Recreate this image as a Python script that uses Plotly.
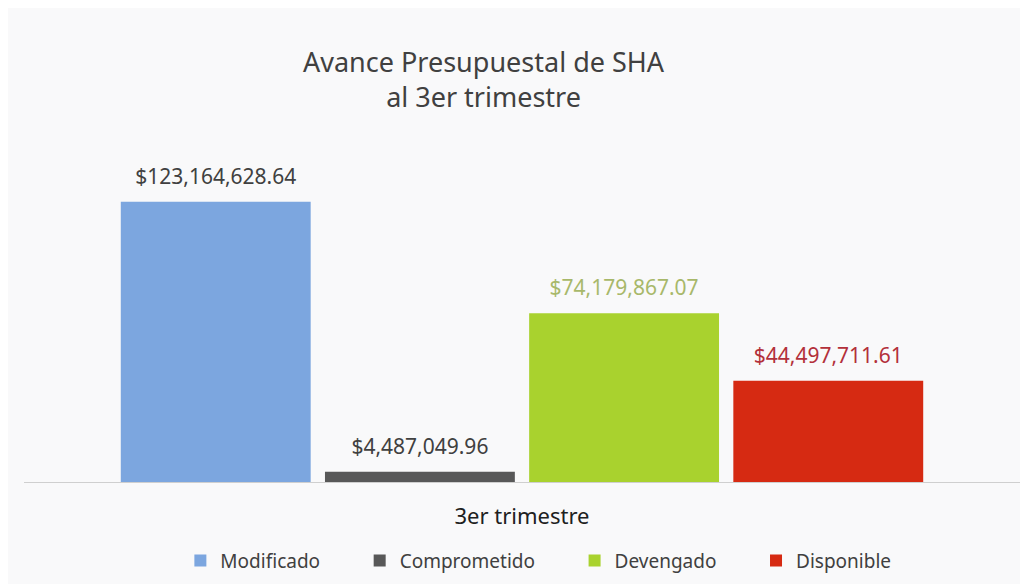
import plotly.graph_objects as go

periodo = ["3er trimestre"]
series = ["Modificado", "Comprometido", "Devengado", "Disponible"]
montos = [123164628.64, 4487049.96, 74179867.07, 44497711.61]
etiquetas = ["$123,164,628.64", "$4,487,049.96", "$74,179,867.07", "$44,497,711.61"]

colores = ["#7ca6df", "#585858", "#a9d22e", "#d62a12"]
colores_texto = ["#404040", "#404040", "#a8b86a", "#b3303a"]

relleno = "\u00a0" * 7  # extra room after each legend entry

fig = go.Figure()
for nombre, valor, color in zip(series, montos, colores):
    fig.add_trace(go.Bar(
        name=nombre + relleno, x=periodo, y=[valor], offsetgroup=nombre,
        marker=dict(color=color, line=dict(width=0)),
    ))

# value labels, placed over each bar with the same grouping
for nombre, valor, etiqueta, ctexto in zip(series, montos, etiquetas, colores_texto):
    fig.add_trace(go.Scatter(
        x=periodo, y=[valor], text=[etiqueta], offsetgroup=nombre,
        mode="markers+text", textposition="top center",
        marker=dict(size=19, opacity=0), showlegend=False, cliponaxis=False,
        textfont=dict(color=ctexto, size=21), hoverinfo="skip",
    ))

fig.update_layout(
    width=1028, height=584,
    margin=dict(l=16, r=16, t=160, b=101),
    paper_bgcolor="#f9f9fa", plot_bgcolor="#f9f9fa",
    font=dict(family="Noto Sans, Open Sans, sans-serif", color="#404040"),
    barmode="group", bargap=0.18, bargroupgap=0.07,
    scattermode="group", scattergap=0.18,
    title=dict(text="Avance Presupuestal de SHA<br>al 3er trimestre",
               x=0.4626, xanchor="center", y=0.890, yanchor="top",
               font=dict(size=27, color="#404040")),
    xaxis=dict(showgrid=False, showline=True, linecolor="#cfcfcf", linewidth=1,
               ticks="", tickfont=dict(size=22, color="#202020"), ticklabelstandoff=15),
    yaxis=dict(range=[0, 138.0e6], visible=False),
    legend=dict(orientation="h", x=0.157, xanchor="left", y=-0.19, yanchor="top",
                font=dict(size=19, color="#404040"), traceorder="normal"),
    showlegend=True,
)

fig.write_html("out.html")
